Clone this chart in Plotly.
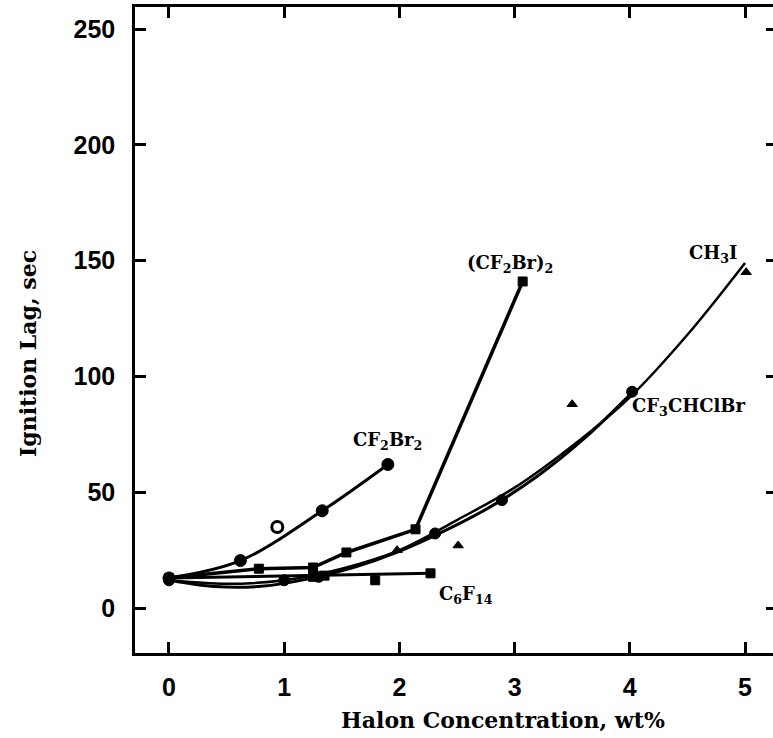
import plotly.graph_objects as go

# ---- data: ignition lag (sec) vs halon concentration (wt%) ----
# CF2Br2 (filled circles, connected)
cf2br2_x = [0.0, 0.62, 1.33, 1.90]
cf2br2_y = [13, 20.5, 42, 62]
# CF2Br2 extra point (open circle)
cf2br2_open_x = [0.94]
cf2br2_open_y = [35]

# (CF2Br)2 (squares, connected)
c2f4br2_x = [0.0, 0.78, 1.25, 1.54, 2.14, 3.07]
c2f4br2_y = [13, 17, 17.5, 24, 34, 141]

# C6F14 (squares) and its fitted line
c6f14_x = [1.25, 1.35, 1.79, 2.27]
c6f14_y = [13.5, 14, 12, 15]
c6f14_fit_x = [0.0, 1.0, 2.27]
c6f14_fit_y = [13, 13.8, 15]

# CF3CHClBr (filled circles) and its fitted curve
cf3_x = [0.0, 1.0, 1.30, 2.31, 2.89, 4.02]
cf3_y = [12, 12, 13.5, 32.2, 46.6, 93.4]
cf3_fit_x = [0.0, 0.4, 0.8, 1.2, 1.6, 2.0, 2.4, 2.8, 3.2, 3.6, 4.02]
cf3_fit_y = [12, 9.3, 9.4, 12.5, 17.5, 24.5, 33.5, 44, 57, 73, 93]

# CH3I (triangles) and its fitted curve
ch3i_x = [1.98, 2.51, 3.50, 5.01]
ch3i_y = [25, 27, 88, 145]
ch3i_fit_x = [0.0, 0.5, 1.0, 1.5, 2.0, 2.5, 3.0, 3.5, 4.0, 4.5, 5.0]
ch3i_fit_y = [12, 10.5, 12, 17, 25, 38, 52, 70, 91, 118, 149]

x_ticks = [0, 1, 2, 3, 4, 5]
y_ticks = [0, 50, 100, 150, 200, 250]

# series labels: (text, x, y, anchor)
labels = [
    ("CF<sub>2</sub>Br<sub>2</sub>", 1.90, 72, "center"),
    ("(CF<sub>2</sub>Br)<sub>2</sub>", 2.96, 148.5, "center"),
    ("CH<sub>3</sub>I", 4.73, 153, "center"),
    ("CF<sub>3</sub>CHClBr", 4.00, 87, "left"),
    ("C<sub>6</sub>F<sub>14</sub>", 2.33, 5.5, "left"),
]

INK = "black"

W, H = 773, 738
ML, MR, MT, MB = 135, 0, 7, 85
pw, ph = W - ML - MR, H - MT - MB
X_RANGE = [-0.295, 5.243]
Y_RANGE = [-19.4, 259.5]

fig = go.Figure()

def line(x, y, shape="linear", width=3):
    fig.add_trace(go.Scatter(x=x, y=y, mode="lines",
                             line=dict(color=INK, width=width, shape=shape,
                                       smoothing=1.0)))

def pts(x, y, symbol, size):
    fig.add_trace(go.Scatter(x=x, y=y, mode="markers",
                             marker=dict(symbol=symbol, size=size, color=INK,
                                         line=dict(color=INK, width=1))))

# fitted curves
line(ch3i_fit_x, ch3i_fit_y, shape="spline", width=2.5)
line(cf3_fit_x, cf3_fit_y, shape="spline", width=3)
line(c6f14_fit_x, c6f14_fit_y, width=3)
# connected series
line(cf2br2_x, cf2br2_y, shape="spline", width=3)
line(c2f4br2_x, c2f4br2_y, width=3.5)

# markers
pts(cf2br2_x, cf2br2_y, "circle", 12)
fig.add_trace(go.Scatter(x=cf2br2_open_x, y=cf2br2_open_y, mode="markers",
                         marker=dict(symbol="circle-open", size=11, color=INK,
                                     line=dict(color=INK, width=3))))
pts(c2f4br2_x, c2f4br2_y, "square", 9)
pts(c6f14_x, c6f14_y, "square", 9)
pts(cf3_x, cf3_y, "circle", 11)
pts(ch3i_x, ch3i_y, "triangle-up", 9)

# invisible trace carrying the right-hand tick axis
fig.add_trace(go.Scatter(x=[X_RANGE[0]], y=[Y_RANGE[0]], mode="markers",
                         marker=dict(size=1, opacity=0), yaxis="y2",
                         hoverinfo="skip"))

for text, x, y, anchor in labels:
    fig.add_annotation(x=x, y=y, xref="x", yref="y", text=text,
                       showarrow=False, xanchor=anchor, yanchor="middle",
                       font=dict(family="DejaVu Serif", size=18, color=INK,
                                 weight="bold"))

def px_to_paper(px, py):
    return (px - ML) / pw, (H - MB - py) / ph

tx, ty = px_to_paper(503, 720)
fig.add_annotation(x=tx, y=ty, xref="paper", yref="paper",
                   xanchor="center", yanchor="middle",
                   text="Halon Concentration, wt%", showarrow=False,
                   font=dict(family="DejaVu Serif", size=22, color=INK,
                             weight="bold"))
tx, ty = px_to_paper(28, 354)
fig.add_annotation(x=tx, y=ty, xref="paper", yref="paper",
                   xanchor="center", yanchor="middle",
                   text="Ignition Lag, sec", textangle=-90, showarrow=False,
                   font=dict(family="DejaVu Serif", size=22, color=INK,
                             weight="bold"))

tickfont = dict(family="Liberation Sans", size=25, color=INK, weight="bold")
common = dict(showgrid=False, zeroline=False, showline=True,
              linecolor=INK, linewidth=2.5,
              ticks="inside", ticklen=11, tickwidth=2.5, tickcolor=INK,
              tickfont=tickfont)

fig.update_layout(
    width=W, height=H,
    margin=dict(l=ML, r=MR, t=MT, b=MB, pad=0),
    paper_bgcolor="white", plot_bgcolor="white",
    showlegend=False,
    xaxis=dict(range=X_RANGE, tickvals=x_ticks, mirror="ticks",
               ticklabelstandoff=10, **common),
    yaxis=dict(range=Y_RANGE, tickvals=y_ticks, mirror=False,
               ticklabelstandoff=12, **common),
    yaxis2=dict(range=Y_RANGE, tickvals=y_ticks, overlaying="y",
                side="right", anchor="free", position=1.0,
                showgrid=False, zeroline=False, showline=False,
                ticks="inside", ticklen=7, tickwidth=2.5, tickcolor=INK,
                showticklabels=False),
)

fig.write_html("out.html")
